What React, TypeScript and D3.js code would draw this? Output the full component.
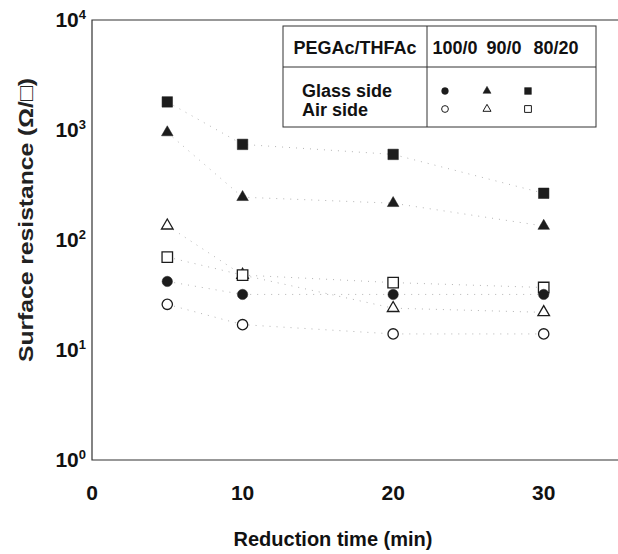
import React, { useEffect, useRef } from "react";
import * as d3 from "d3";

const times = [5, 10, 20, 30];
const glass100 = [42, 32, 32, 32];
const glass90 = [950, 245, 216, 134];
const glass80 = [1800, 740, 600, 266];
const air100 = [26, 17, 14, 14];
const air90 = [135, 48, 24, 22];
const air80 = [70, 48, 41, 37];

const xTicks = [0, 10, 20, 30];
const yTicks = [1, 10, 100, 1000, 10000];
const ratios = ["100/0", "90/0", "80/20"];

const series = [
  { name: "glass80", values: glass80, shape: "square", filled: true },
  { name: "glass90", values: glass90, shape: "triangle", filled: true },
  { name: "air90", values: air90, shape: "triangle", filled: false },
  { name: "air80", values: air80, shape: "square", filled: false },
  { name: "glass100", values: glass100, shape: "circle", filled: true },
  { name: "air100", values: air100, shape: "circle", filled: false },
];

const FONT = "Liberation Sans, Arial, sans-serif";

function App() {
  const ref = useRef<SVGSVGElement>(null);

  useEffect(() => {
    const svg = d3.select(ref.current);
    svg.selectAll("*").remove();

    const x = d3.scaleLinear().domain([0, 35]).range([92, 619]);
    const y = d3.scaleLog().domain([1, 10000]).range([460, 20]);

    const symbolOf = (shape: string, small: boolean) => {
      if (shape === "square")
        return d3.symbol(d3.symbolSquare, small ? 46 : 110)();
      if (shape === "triangle")
        return d3.symbol(d3.symbolTriangle, small ? 28 : 58)();
      return d3.symbol(d3.symbolCircle, small ? 36 : 84)();
    };

    // frame (left, bottom, top)
    svg
      .append("path")
      .attr("d", `M${x(35)},${y(10000)}H${x(0)}V${y(1)}H${x(35)}`)
      .attr("fill", "none")
      .attr("stroke", "#333")
      .attr("stroke-width", 1.2);

    // y ticks
    const yt = svg
      .append("g")
      .selectAll("text")
      .data(yTicks)
      .enter()
      .append("text")
      .attr("x", 86)
      .attr("y", (d) => y(d))
      .attr("dy", "0.35em")
      .attr("text-anchor", "end")
      .attr("font-family", FONT)
      .attr("font-weight", "bold")
      .attr("font-size", 21)
      .attr("fill", "#111");
    yt.append("tspan").text("10");
    yt.append("tspan")
      .attr("font-size", 13)
      .attr("dy", -8)
      .text((d) => String(Math.round(Math.log10(d))));

    // x ticks
    svg
      .append("g")
      .selectAll("text")
      .data(xTicks)
      .enter()
      .append("text")
      .attr("x", (d) => x(d))
      .attr("y", 500)
      .attr("text-anchor", "middle")
      .attr("font-family", FONT)
      .attr("font-weight", "bold")
      .attr("font-size", 21)
      .attr("fill", "#111")
      .text((d) => d);

    // axis titles
    svg
      .append("text")
      .attr("x", 333)
      .attr("y", 546)
      .attr("text-anchor", "middle")
      .attr("font-family", FONT)
      .attr("font-weight", "bold")
      .attr("font-size", 20)
      .attr("fill", "#111")
      .text("Reduction time (min)");
    svg
      .append("text")
      .attr("transform", "translate(33, 220) rotate(-90)")
      .attr("text-anchor", "middle")
      .attr("font-family", FONT)
      .attr("font-weight", "bold")
      .attr("font-size", 21)
      .attr("textLength", 284)
      .attr("lengthAdjust", "spacingAndGlyphs")
      .attr("fill", "#222")
      .text("Surface resistance (\u03A9/\u25A1)");

    // dotted connecting lines
    const line = d3
      .line<number>()
      .x((d, i) => x(times[i]))
      .y((d) => y(d));
    series.forEach((s) => {
      svg
        .append("path")
        .attr("d", line(s.values))
        .attr("fill", "none")
        .attr("stroke", "#b5b5b5")
        .attr("stroke-width", 1)
        .attr("stroke-dasharray", "1,6");
    });

    // markers
    series.forEach((s) => {
      svg
        .append("g")
        .selectAll("path")
        .data(s.values)
        .enter()
        .append("path")
        .attr("d", symbolOf(s.shape, false))
        .attr("transform", (d, i) => `translate(${x(times[i])},${y(d)})`)
        .attr("fill", s.filled ? "#1c1c1c" : "#fff")
        .attr("stroke", "#1c1c1c")
        .attr("stroke-width", s.filled ? 0.5 : 1.3);
    });

    // legend table
    const lg = svg.append("g");
    lg.append("rect")
      .attr("x", 283)
      .attr("y", 26)
      .attr("width", 313)
      .attr("height", 101)
      .attr("fill", "#fff")
      .attr("stroke", "#333")
      .attr("stroke-width", 1);
    lg.append("line")
      .attr("x1", 283)
      .attr("x2", 596)
      .attr("y1", 67)
      .attr("y2", 67)
      .attr("stroke", "#333");
    lg.append("line")
      .attr("x1", 427)
      .attr("x2", 427)
      .attr("y1", 26)
      .attr("y2", 127)
      .attr("stroke", "#333");

    const legendText = (tx: number, ty: number, s: string, anchor = "start") =>
      lg
        .append("text")
        .attr("x", tx)
        .attr("y", ty)
        .attr("text-anchor", anchor)
        .attr("font-family", FONT)
        .attr("font-weight", "bold")
        .attr("font-size", 18)
        .attr("fill", "#111")
        .text(s);
    legendText(355, 54, "PEGAc/THFAc", "middle");
    const colX = [455, 504, 556];
    ratios.forEach((r, i) => legendText(colX[i], 54, r, "middle"));
    legendText(302, 97, "Glass side");
    legendText(302, 116, "Air side");

    const legendMarks = [
      { shape: "circle", col: 445 },
      { shape: "triangle", col: 487 },
      { shape: "square", col: 528 },
    ];
    legendMarks.forEach((m) => {
      [true, false].forEach((filled) => {
        lg.append("path")
          .attr("d", symbolOf(m.shape, true))
          .attr("transform", `translate(${m.col},${filled ? 91 : 109})`)
          .attr("fill", filled ? "#1c1c1c" : "#fff")
          .attr("stroke", "#1c1c1c")
          .attr("stroke-width", filled ? 0.5 : 1);
      });
    });
  }, []);

  return (
    <svg
      ref={ref}
      width={618}
      height={554}
      style={{ position: "absolute", left: 0, top: 0, background: "#fff" }}
    />
  );
}

export default App;
